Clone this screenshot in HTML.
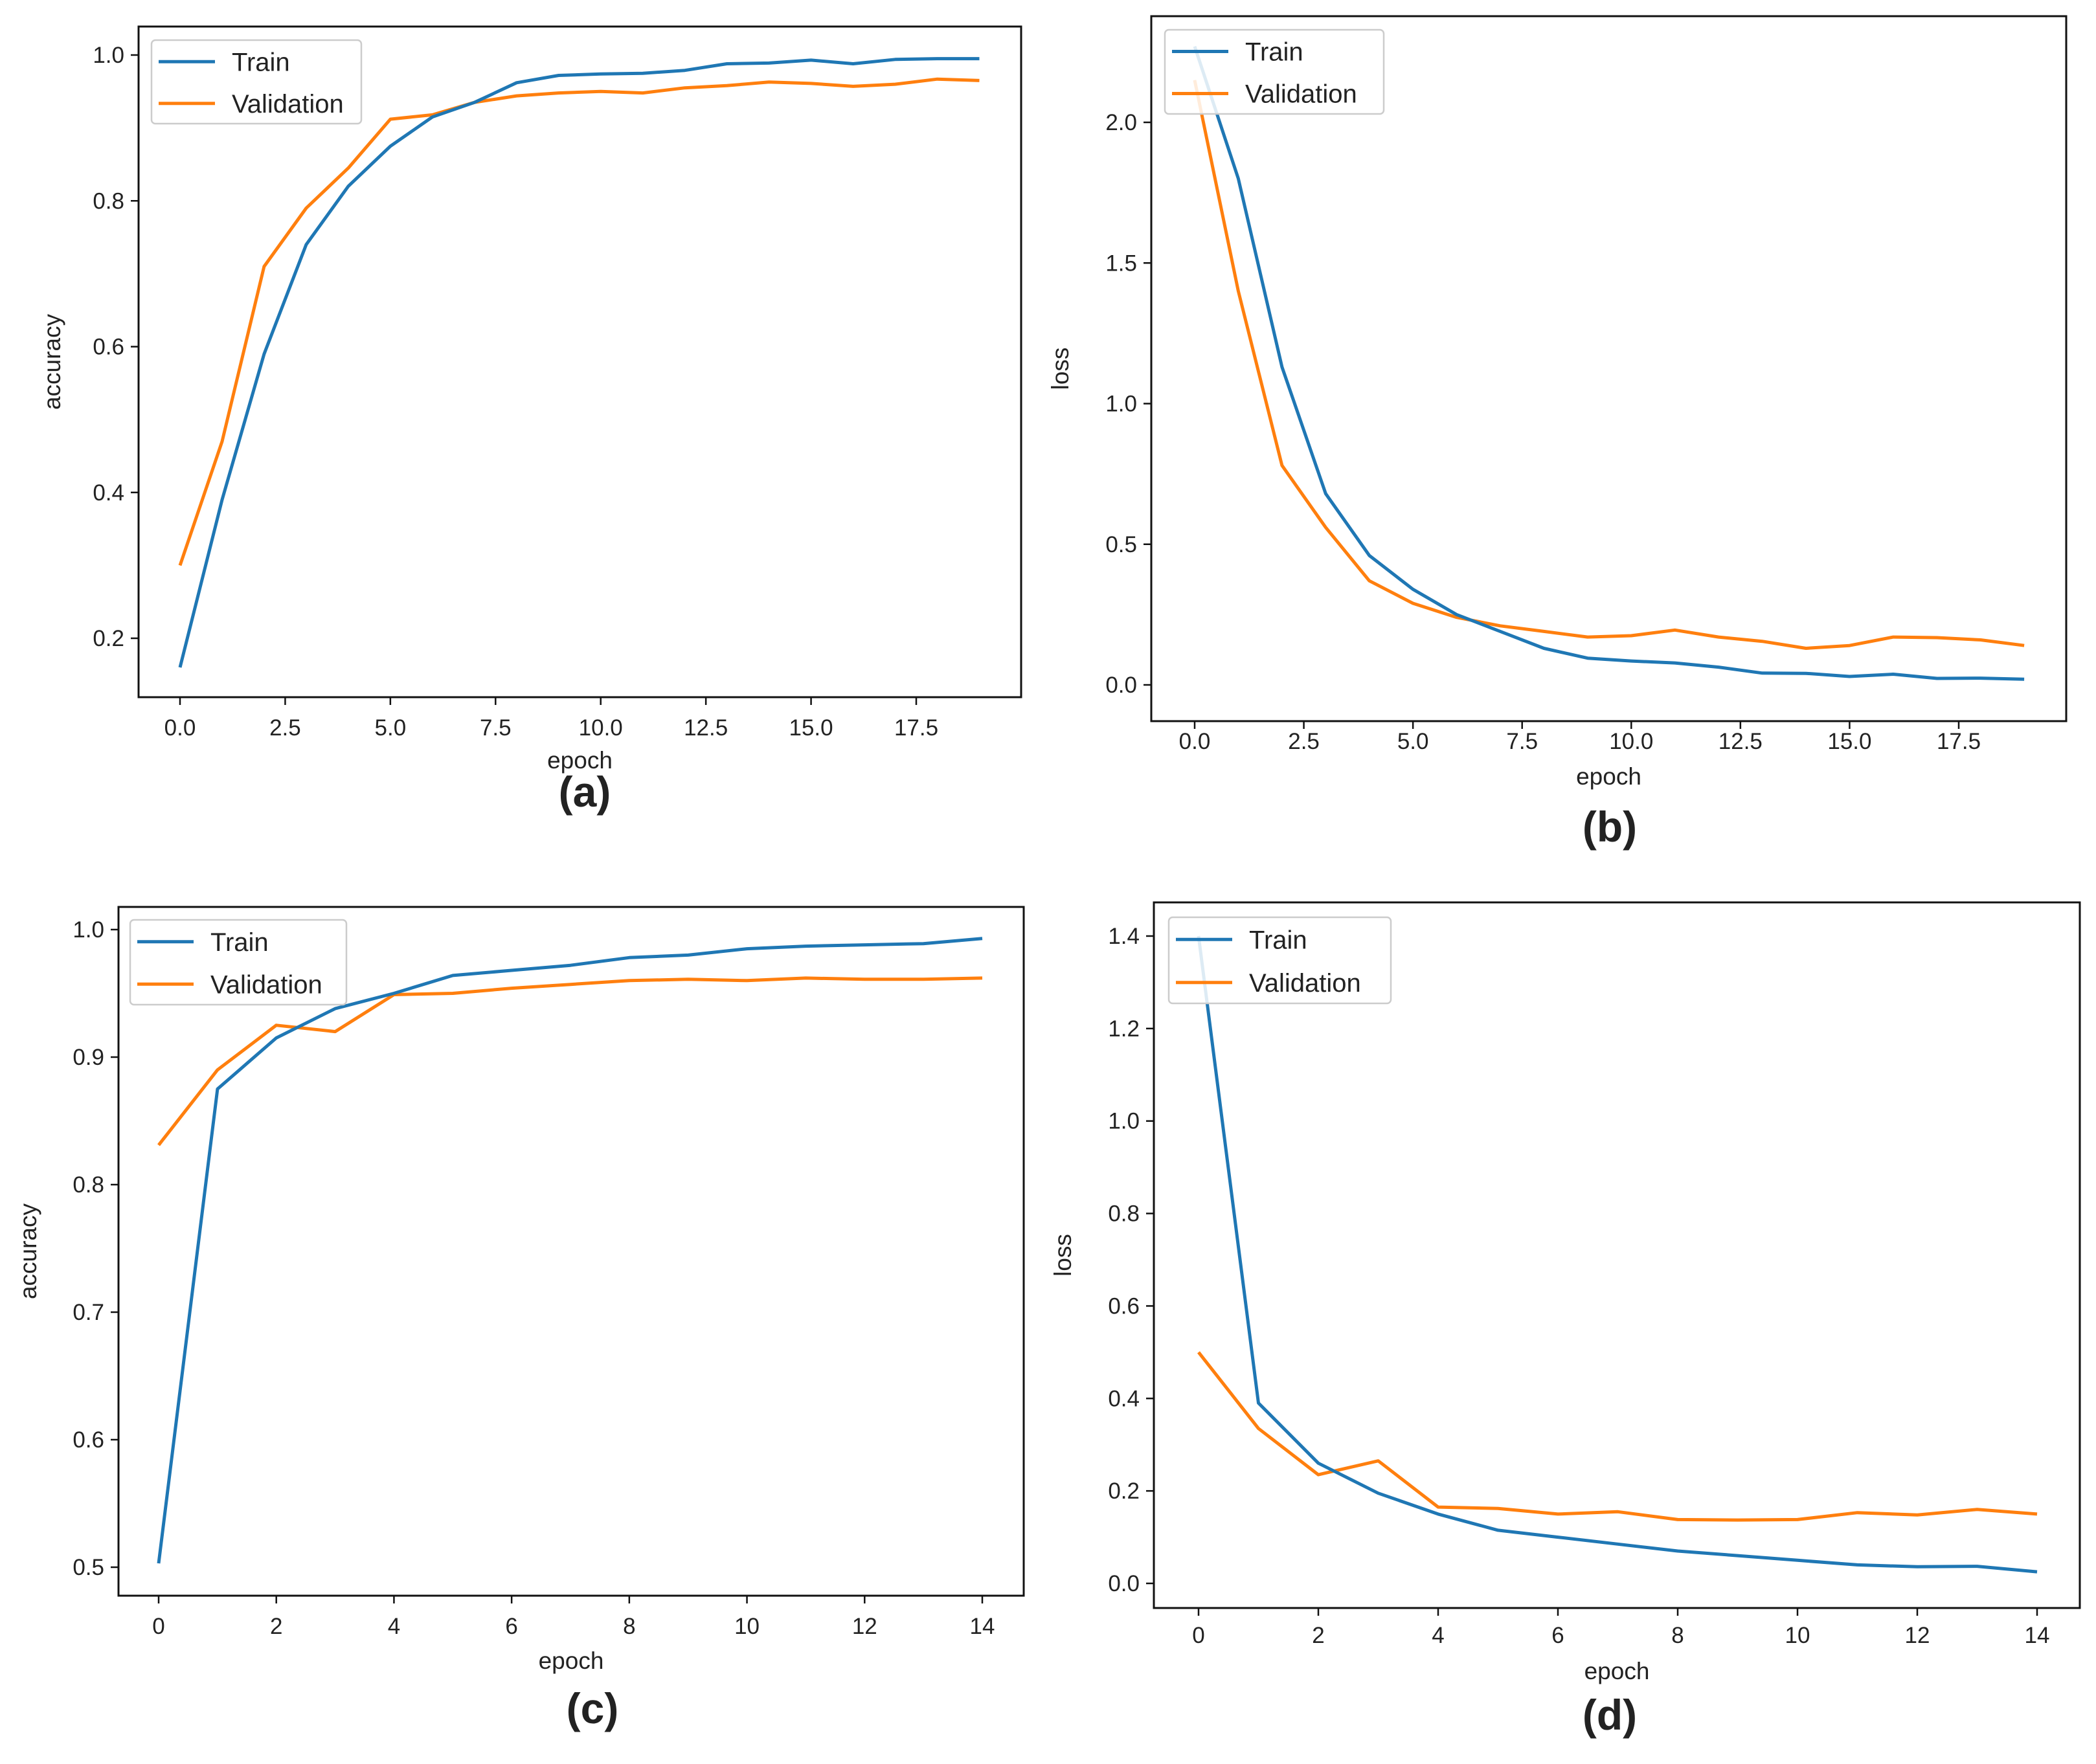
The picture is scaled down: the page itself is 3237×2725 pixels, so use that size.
<!DOCTYPE html>
<html><head><meta charset="utf-8">
<style>
html,body{margin:0;padding:0;background:#fff;}
svg{display:block;}
text{font-family:"Liberation Sans","DejaVu Sans",sans-serif;fill:#222;}
</style></head>
<body>
<svg id="fig" width="3237" height="2725" viewBox="0 0 3237 2725" xmlns="http://www.w3.org/2000/svg"></svg>
<script>
// ---- data ----
const epochsAB = [0,1,2,3,4,5,6,7,8,9,10,11,12,13,14,15,16,17,18,19];
const epochsCD = [0,1,2,3,4,5,6,7,8,9,10,11,12,13,14];
const accTrainA = [0.16,0.39,0.59,0.74,0.82,0.875,0.915,0.935,0.962,0.972,0.974,0.975,0.979,0.988,0.989,0.993,0.988,0.994,0.995,0.995];
const accValA   = [0.30,0.47,0.71,0.79,0.845,0.912,0.918,0.935,0.944,0.948,0.950,0.948,0.955,0.958,0.963,0.961,0.957,0.960,0.967,0.965];
const lossTrainB = [2.27,1.80,1.13,0.68,0.46,0.34,0.25,0.19,0.13,0.095,0.085,0.078,0.063,0.042,0.041,0.030,0.038,0.023,0.024,0.020];
const lossValB   = [2.15,1.40,0.78,0.56,0.37,0.29,0.24,0.21,0.19,0.17,0.175,0.195,0.17,0.155,0.13,0.14,0.17,0.168,0.16,0.14];
const accTrainC = [0.503,0.875,0.915,0.938,0.95,0.964,0.968,0.972,0.978,0.98,0.985,0.987,0.988,0.989,0.993];
const accValC   = [0.831,0.89,0.925,0.92,0.949,0.95,0.954,0.957,0.96,0.961,0.96,0.962,0.961,0.961,0.962];
const lossTrainD = [1.40,0.39,0.26,0.195,0.15,0.115,0.10,0.085,0.07,0.06,0.05,0.04,0.036,0.037,0.025];
const lossValD   = [0.50,0.335,0.235,0.265,0.165,0.162,0.15,0.155,0.138,0.137,0.138,0.153,0.148,0.16,0.15];
const xTicksAB = [0,2.5,5,7.5,10,12.5,15,17.5];
const xTickLabelsAB = ["0.0","2.5","5.0","7.5","10.0","12.5","15.0","17.5"];
const xTicksCD = [0,2,4,6,8,10,12,14];
const xTickLabelsCD = ["0","2","4","6","8","10","12","14"];
const yTicksA = [0.2,0.4,0.6,0.8,1.0];
const yTicksB = [0.0,0.5,1.0,1.5,2.0];
const yTicksC = [0.5,0.6,0.7,0.8,0.9,1.0];
const yTicksD = [0.0,0.2,0.4,0.6,0.8,1.0,1.2,1.4];

const NS = "http://www.w3.org/2000/svg";
const svg = document.getElementById('fig');
function mk(tag, attrs, parent){
  const e = document.createElementNS(NS, tag);
  for (const k in attrs) e.setAttribute(k, attrs[k]);
  (parent||svg).appendChild(e);
  return e;
}

const panels = [
  {id:'a', box:[214,41,1577,1077], x0:[0,278], x1:[17.5,1415], y0:[0.2,986], y1:[1.0,85],
   xs:epochsAB, tr:accTrainA, va:accValA, xt:xTicksAB, xtl:xTickLabelsAB, yt:yTicksA, yfmt:1,
   ylab:'accuracy', ylabX:93, tickY:1136, epochY:1187, letter:'(a)', letterX:903, letterY:1246,
   leg:[234,62,558,191]},
  {id:'b', box:[1778,25,3191,1114], x0:[0,1845], x1:[17.5,3025], y0:[0.0,1058], y1:[2.0,189],
   xs:epochsAB, tr:lossTrainB, va:lossValB, xt:xTicksAB, xtl:xTickLabelsAB, yt:yTicksB, yfmt:1,
   ylab:'loss', ylabX:1650, tickY:1157, epochY:1212, letter:'(b)', letterX:2486, letterY:1300,
   leg:[1799,46,2137,176]},
  {id:'c', box:[183,1401,1581,2465], x0:[0,245], x1:[14,1517], y0:[0.5,2421], y1:[1.0,1436],
   xs:epochsCD, tr:accTrainC, va:accValC, xt:xTicksCD, xtl:xTickLabelsCD, yt:yTicksC, yfmt:1,
   ylab:'accuracy', ylabX:56, tickY:2524, epochY:2578, letter:'(c)', letterX:915, letterY:2662,
   leg:[201,1421,535,1552]},
  {id:'d', box:[1782,1394,3212,2484], x0:[0,1851], x1:[14,3146], y0:[0.0,2446], y1:[1.4,1446],
   xs:epochsCD, tr:lossTrainD, va:lossValD, xt:xTicksCD, xtl:xTickLabelsCD, yt:yTicksD, yfmt:1,
   ylab:'loss', ylabX:1654, tickY:2538, epochY:2594, letter:'(d)', letterX:2486, letterY:2672,
   leg:[1805,1417,2148,1550]}
];

panels.forEach(p=>{
  const g = mk('g', {});
  
  
  const sx = v => p.x0[1] + (v - p.x0[0]) * (p.x1[1]-p.x0[1])/(p.x1[0]-p.x0[0]);
  const sy = v => p.y0[1] + (v - p.y0[0]) * (p.y1[1]-p.y0[1])/(p.y1[0]-p.y0[0]);
  const [L,T,R,B] = p.box;

  const series = [{vals:p.tr, color:'#1f77b4', name:'train-line'},{vals:p.va, color:'#ff7f0e', name:'validation-line'}];
  series.slice().reverse().forEach(s=>{
    const pts = p.xs.map((x,i)=> sx(x).toFixed(1)+','+sy(s.vals[i]).toFixed(1)).join(' ');
    const pl = mk('polyline', {points:pts, fill:'none', stroke:s.color, 'stroke-width':5, 'stroke-linejoin':'round'}, g);
    
    
  });

  const fr = mk('rect', {x:L, y:T, width:R-L, height:B-T, fill:'none', stroke:'#111', 'stroke-width':3}, g);
  
  

  p.xt.forEach((v,i)=>{
    const x = sx(v);
    mk('line', {x1:x, y1:B, x2:x, y2:B+12, stroke:'#111', 'stroke-width':2.5}, g);
    const t = mk('text', {x:x, y:p.tickY, 'font-size':35, 'text-anchor':'middle'}, g);
    t.textContent = p.xtl[i];
    
    
  });
  p.yt.forEach(v=>{
    const y = sy(v);
    mk('line', {x1:L-12, y1:y, x2:L, y2:y, stroke:'#111', 'stroke-width':2.5}, g);
    const t = mk('text', {x:L-22, y:y+12, 'font-size':35, 'text-anchor':'end'}, g);
    t.textContent = v.toFixed(p.yfmt);
    
    
  });
  const xl = mk('text', {x:(L+R)/2, y:p.epochY, 'font-size':37, 'text-anchor':'middle'}, g);
  xl.textContent = 'epoch';
  
  
  const yc = (T+B)/2;
  const yl = mk('text', {x:p.ylabX, y:yc, 'font-size':37, 'text-anchor':'middle', transform:'rotate(-90 '+p.ylabX+' '+yc+')'}, g);
  yl.textContent = p.ylab;
  
  
  const lt = mk('text', {x:p.letterX, y:p.letterY, 'font-size':66, 'font-weight':'bold', 'text-anchor':'middle'}, g);
  lt.textContent = p.letter;
  
  

  const [lx0,ly0,lx1,ly1] = p.leg;
  const lg = mk('g', {}, g);
  
  
  mk('rect', {x:lx0, y:ly0, width:lx1-lx0, height:ly1-ly0, rx:6, fill:'#fff', 'fill-opacity':0.85, stroke:'#ccc', 'stroke-width':2.5}, lg);
  const rowH = (ly1-ly0)/2;
  [['Train','#1f77b4'],['Validation','#ff7f0e']].forEach((e,i)=>{
    const cy = ly0 + rowH*(i+0.5) + 1;
    const ent = mk('g', {}, lg);
    
    
    mk('line', {x1:lx0+11, y1:cy, x2:lx0+98, y2:cy, stroke:e[1], 'stroke-width':5}, ent);
    const t = mk('text', {x:lx0+124, y:cy+14, 'font-size':40}, ent);
    t.textContent = e[0];
  });
});
</script>
</body></html>
